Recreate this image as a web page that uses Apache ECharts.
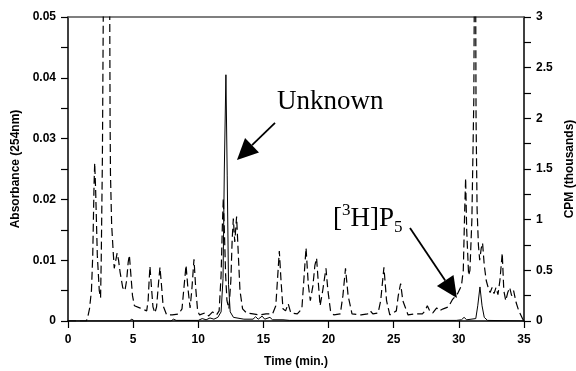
<!DOCTYPE html>
<html>
<head>
<meta charset="utf-8">
<script src="https://cdn.jsdelivr.net/npm/echarts@6/dist/echarts.min.js"></script>
<style>
  html, body { margin: 0; padding: 0; background: #fff; }
  #chart { width: 576px; height: 371px; }
</style>
</head>
<body>
<div id="chart"></div>
<script>
// absorbance at 254 nm (solid line, left axis): [time (min), absorbance]
const absTrace = [
  [0, 0], [4.7, 0], [4.9, 0.0003], [5.1, 0], [7.9, 0], [8.1, 0.0003], [8.3, 0.0001],
  [10.0, 0.0001], [10.3, 0.0004], [10.6, 0.0002], [10.9, 0.0005], [11.2, 0.0003],
  [11.5, 0.0006], [11.75, 0.0015], [11.9, 0.007], [12.0, 0.025], [12.12, 0.0405],
  [12.22, 0.024], [12.32, 0.006], [12.45, 0.0015], [12.7, 0.0006], [13.5, 0.0003],
  [14.2, 0.0003], [14.4, 0.0007], [14.6, 0.0003], [14.9, 0.0008], [15.1, 0.0003],
  [15.5, 0.0006], [15.7, 0.0002], [16.5, 0.0002], [17.0, 0.0001], [20.0, 0.0001],
  [25.0, 0.0001], [29.8, 0.0001], [30.2, 0.0002], [30.4, 0.0006], [30.6, 0.0002],
  [31.3, 0.0004], [31.45, 0.0025], [31.62, 0.0056], [31.78, 0.0025], [31.95, 0.0006],
  [32.2, 0.0001], [35, 0]
];

// radioactivity (dashed line, right axis): [time (min), CPM in thousands]
const cpmTrace = [
  [0, 0], [1.4, 0], [1.5, 0.03], [1.65, 0.12], [1.8, 0.3], [1.9, 0.65], [2.0, 1.35],
  [2.05, 1.56], [2.12, 1.3], [2.25, 0.65], [2.4, 0.3], [2.5, 0.23], [2.55, 0.6],
  [2.64, 1.6], [2.72, 3.3], [2.95, 4.6], [3.2, 3.2], [3.23, 2.0], [3.26, 1.45],
  [3.35, 0.95], [3.47, 0.68], [3.55, 0.52], [3.62, 0.53], [3.77, 0.67], [3.88, 0.6],
  [4.0, 0.48], [4.2, 0.33], [4.37, 0.3], [4.5, 0.4], [4.62, 0.58], [4.71, 0.65],
  [4.8, 0.5], [4.95, 0.25], [5.1, 0.15], [5.5, 0.13], [6.04, 0.1], [6.15, 0.2],
  [6.22, 0.38], [6.29, 0.54], [6.38, 0.38], [6.52, 0.14], [6.67, 0.08], [6.8, 0.14],
  [6.95, 0.38], [7.06, 0.53], [7.16, 0.38], [7.3, 0.15], [7.57, 0.06], [8.0, 0.06],
  [8.5, 0.07], [8.75, 0.12], [8.9, 0.33], [9.06, 0.55], [9.2, 0.33], [9.37, 0.13],
  [9.5, 0.3], [9.67, 0.61], [9.8, 0.33], [9.95, 0.1], [10.1, 0.06], [10.5, 0.08],
  [10.8, 0.05], [11.1, 0.09], [11.4, 0.06], [11.6, 0.1], [11.75, 0.45], [11.85, 0.95],
  [11.92, 1.21], [12.0, 0.9], [12.1, 0.45], [12.2, 0.2], [12.35, 0.12], [12.5, 0.4],
  [12.6, 0.8], [12.69, 1.01], [12.8, 0.78], [12.94, 1.03], [13.05, 0.72], [13.2, 0.3],
  [13.4, 0.12], [13.7, 0.08], [14.2, 0.07], [14.7, 0.06], [15.2, 0.07], [15.7, 0.07],
  [15.95, 0.15], [16.1, 0.45], [16.22, 0.69], [16.35, 0.4], [16.5, 0.12], [16.7, 0.1],
  [16.9, 0.17], [17.1, 0.08], [17.6, 0.07], [17.95, 0.12], [18.1, 0.4], [18.27, 0.72],
  [18.45, 0.35], [18.6, 0.2], [18.8, 0.35], [18.95, 0.55], [19.08, 0.62], [19.2, 0.4],
  [19.35, 0.15], [19.55, 0.3], [19.8, 0.52], [19.95, 0.3], [20.15, 0.1], [20.4, 0.06],
  [20.9, 0.07], [21.1, 0.25], [21.3, 0.52], [21.5, 0.25], [21.8, 0.07], [22.5, 0.06],
  [23.0, 0.07], [23.2, 0.1], [23.4, 0.07], [23.8, 0.08], [24.0, 0.2], [24.25, 0.53],
  [24.45, 0.2], [24.7, 0.06], [25.2, 0.1], [25.35, 0.25], [25.53, 0.37], [25.7, 0.2],
  [26.1, 0.06], [26.6, 0.07], [27.2, 0.07], [27.4, 0.1], [27.58, 0.15], [27.8, 0.09],
  [28.0, 0.08], [28.3, 0.13], [28.5, 0.1], [28.8, 0.12], [29.2, 0.14], [29.5, 0.21],
  [29.9, 0.27], [30.2, 0.35], [30.34, 0.5], [30.45, 1.1], [30.52, 1.41], [30.6, 0.9],
  [30.75, 0.45], [30.85, 0.5], [31.0, 1.0], [31.15, 2.2], [31.25, 5.0], [31.32, 2.0],
  [31.4, 1.1], [31.5, 0.75], [31.6, 0.6], [31.72, 0.72], [31.82, 0.77], [31.95, 0.55],
  [32.1, 0.4], [32.25, 0.33], [32.4, 0.28], [32.55, 0.33], [32.7, 0.27], [32.85, 0.33],
  [33.0, 0.26], [33.15, 0.4], [33.33, 0.67], [33.45, 0.3], [33.6, 0.2], [33.75, 0.28],
  [33.9, 0.33], [34.05, 0.25], [34.2, 0.3], [34.4, 0.18], [34.6, 0.1], [34.9, 0.02],
  [35, 0]
];

// annotation anchors, in (time, absorbance) units
const unknownLabelAt = [16.04, 0.036];
const unknownArrow = [[15.89, 0.0326], [12.97, 0.0265]];
const p5LabelAt = [20.34, 0.0168];
const p5Arrow = [[26.25, 0.0153], [29.85, 0.0038]];

const sans = '"Liberation Sans", Arial, sans-serif';
const serif = '"Liberation Serif", "Times New Roman", serif';
const axisFont = {fontFamily: sans, fontWeight: 'bold', fontSize: 12, color: '#000'};
const tickStyle = {color: '#000', width: 1.2};

const chart = echarts.init(document.getElementById('chart'));
chart.setOption({
    animation: false,
    backgroundColor: '#fff',
    grid: {left: 68, right: 52, top: 17, bottom: 50, containLabel: false, outerBoundsMode: 'none'},
    xAxis: [{
        type: 'value', min: 0, max: 35, interval: 5, position: 'bottom',
        axisLine: {show: true, onZero: false, lineStyle: {color: '#000', width: 1.5}},
        axisTick: {show: true, length: 7, lineStyle: tickStyle},
        axisLabel: {...axisFont, margin: 13},
        splitLine: {show: false},
        name: 'Time (min.)', nameLocation: 'middle', nameGap: 35,
        nameTextStyle: axisFont
    }, {
        // top frame line only
        type: 'value', min: 0, max: 35, position: 'top',
        axisLine: {show: true, onZero: false, lineStyle: {color: '#555', width: 1.5}},
        axisTick: {show: false}, axisLabel: {show: false}, splitLine: {show: false}
    }],
    yAxis: [{
        type: 'value', min: 0, max: 0.05, interval: 0.01, position: 'left',
        axisLine: {show: true, onZero: false, lineStyle: {color: '#000', width: 1.5}},
        axisTick: {show: true, length: 7, lineStyle: tickStyle},
        minorTick: {show: true, splitNumber: 2, length: 7, lineStyle: tickStyle},
        axisLabel: {...axisFont, margin: 12},
        splitLine: {show: false},
        name: 'Absorbance (254nm)', nameLocation: 'middle', nameRotate: 90, nameGap: 46,
        nameTextStyle: axisFont
    }, {
        type: 'value', min: 0, max: 3, interval: 0.5, position: 'right',
        axisLine: {show: true, onZero: false, lineStyle: {color: '#000', width: 1.5}},
        axisTick: {show: true, length: 7, lineStyle: tickStyle},
        minorTick: {show: true, splitNumber: 2, length: 7, lineStyle: tickStyle},
        axisLabel: {...axisFont, margin: 12},
        splitLine: {show: false},
        name: 'CPM (thousands)', nameLocation: 'middle', nameRotate: 90, nameGap: 40,
        nameTextStyle: axisFont
    }],
    series: [{
        name: 'CPM', type: 'line', xAxisIndex: 0, yAxisIndex: 1,
        data: cpmTrace, symbol: 'none', clip: true,
        lineStyle: {color: '#000', width: 1.2, type: [8, 4]}
    }, {
        name: 'Absorbance', type: 'line', xAxisIndex: 0, yAxisIndex: 0,
        data: absTrace, symbol: 'none', clip: true,
        lineStyle: {color: '#000', width: 1}
    }]
});

// arrows and labels, placed through the axes
const toPx = p => chart.convertToPixel({xAxisIndex: 0, yAxisIndex: 0}, p);

function arrow(from, to) {
    const a = toPx(from), b = toPx(to);
    const dx = b[0] - a[0], dy = b[1] - a[1];
    const len = Math.sqrt(dx * dx + dy * dy);
    const ux = dx / len, uy = dy / len;
    const headLen = 21, headHalf = 10;
    const bx = b[0] - ux * headLen, by = b[1] - uy * headLen;
    return [{
        type: 'line', silent: true,
        shape: {x1: a[0], y1: a[1], x2: bx, y2: by},
        style: {stroke: '#000', lineWidth: 1.8}
    }, {
        type: 'polygon', silent: true,
        shape: {points: [b, [bx - uy * headHalf, by + ux * headHalf], [bx + uy * headHalf, by - ux * headHalf]]},
        style: {fill: '#000'}
    }];
}

const uPos = toPx(unknownLabelAt), pPos = toPx(p5LabelAt);
chart.setOption({
    graphic: [
        ...arrow(unknownArrow[0], unknownArrow[1]),
        ...arrow(p5Arrow[0], p5Arrow[1]),
        {
            type: 'text', x: uPos[0], y: uPos[1], silent: true,
            style: {text: 'Unknown', fontFamily: serif, fontSize: 27, fill: '#000',
                    align: 'left', verticalAlign: 'middle'}
        },
        {
            type: 'text', x: pPos[0], y: pPos[1], silent: true,
            style: {
                text: '[{sup|3}H]P{sub|5}', fontFamily: serif, fontSize: 27, fill: '#000',
                lineHeight: 34, align: 'left', verticalAlign: 'middle',
                rich: {
                    sup: {fontFamily: serif, fontSize: 17, lineHeight: 17, verticalAlign: 'top', fill: '#000'},
                    sub: {fontFamily: serif, fontSize: 17, lineHeight: 22, verticalAlign: 'bottom', fill: '#000'}
                }
            }
        }
    ]
});
</script>
</body>
</html>
